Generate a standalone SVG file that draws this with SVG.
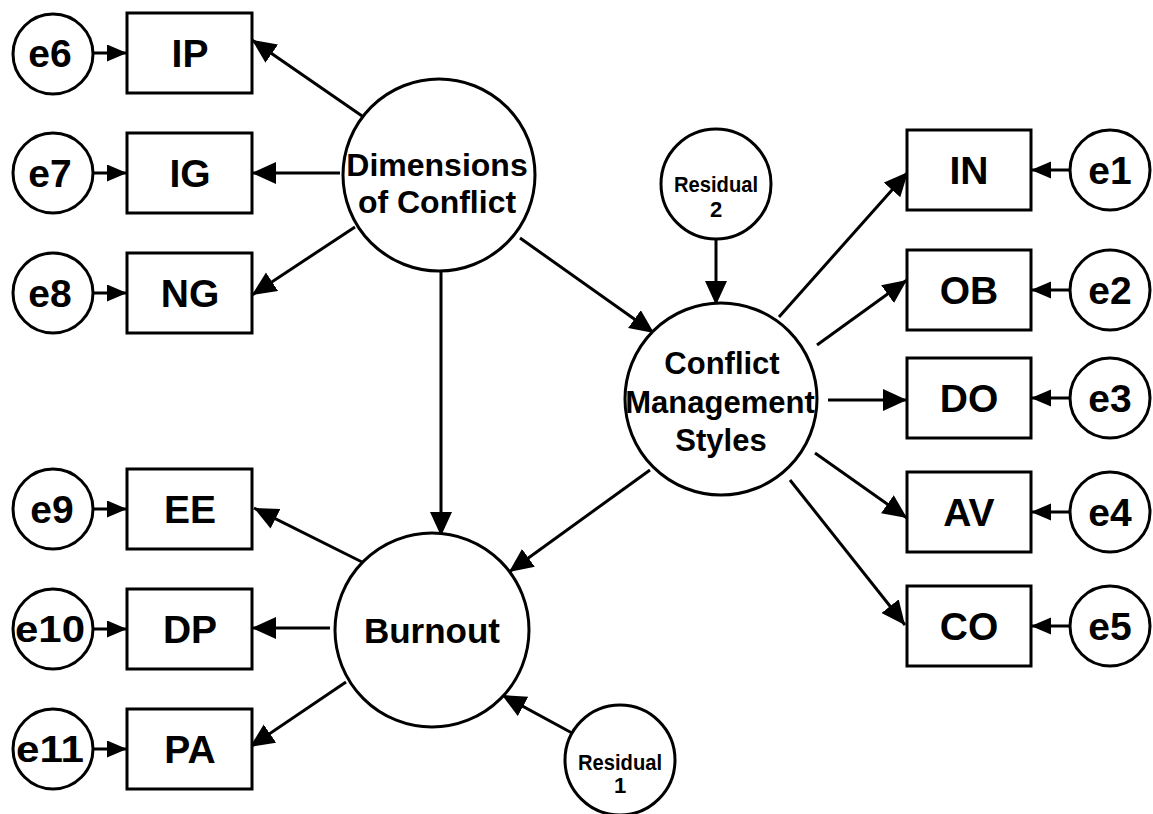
<svg xmlns="http://www.w3.org/2000/svg" width="1153" height="814" viewBox="0 0 1153 814">
  <defs>
    <marker id="head" markerUnits="userSpaceOnUse" markerWidth="26" markerHeight="24" refX="24" refY="11" orient="auto">
      <path d="M0,0 L24,11 L0,22 Z" fill="#000"/>
    </marker>
    <marker id="headSmall" markerUnits="userSpaceOnUse" markerWidth="22" markerHeight="18" refX="20" refY="8.5" orient="auto">
      <path d="M0,0 L20,8.5 L0,17 Z" fill="#000"/>
    </marker>
  </defs>
  <style>
    .shape { fill: #fff; stroke: #000; stroke-width: 3; }
    .edge { stroke: #000; stroke-width: 3; fill: none; marker-end: url(#head); }
    .err { stroke: #000; stroke-width: 3; fill: none; marker-end: url(#headSmall); }
    text { font-family: "Liberation Sans", Arial, sans-serif; font-weight: bold; text-anchor: middle; fill: #000; }
    .lat { font-size: 31px; }
    .obs { font-size: 39px; }
    .e { font-size: 39px; }
    .res { font-size: 22px; }
  </style>
  <rect width="1153" height="814" fill="#fff"/>

  <g id="connectors">
    <!-- structural paths -->
    <line class="edge" x1="365" y1="118" x2="252" y2="40"/>
    <line class="edge" x1="340" y1="173" x2="252" y2="173"/>
    <line class="edge" x1="355" y1="227" x2="252" y2="295"/>
    <line class="edge" x1="441" y1="268" x2="441" y2="536"/>
    <line class="edge" x1="520" y1="238" x2="654" y2="333"/>
    <line class="edge" x1="716" y1="240" x2="716" y2="305"/>
    <line class="edge" x1="779" y1="317" x2="908" y2="172"/>
    <line class="edge" x1="817" y1="345" x2="907" y2="280"/>
    <line class="edge" x1="828" y1="400" x2="907" y2="400"/>
    <line class="edge" x1="815" y1="453" x2="907" y2="518"/>
    <line class="edge" x1="790" y1="480" x2="905" y2="625"/>
    <line class="edge" x1="650" y1="470" x2="509" y2="572"/>
    <line class="edge" x1="362" y1="562" x2="254" y2="508"/>
    <line class="edge" x1="330" y1="628" x2="252" y2="628"/>
    <line class="edge" x1="346" y1="682" x2="250" y2="747"/>
    <line class="edge" x1="572" y1="733" x2="502" y2="695"/>
    <!-- error terms -->
    <line class="err" x1="94" y1="53" x2="127" y2="53"/>
    <line class="err" x1="94" y1="173" x2="127" y2="173"/>
    <line class="err" x1="94" y1="293" x2="127" y2="293"/>
    <line class="err" x1="94" y1="509" x2="127" y2="509"/>
    <line class="err" x1="94" y1="629" x2="127" y2="629"/>
    <line class="err" x1="94" y1="749" x2="127" y2="749"/>
    <line class="err" x1="1069" y1="170" x2="1031" y2="170"/>
    <line class="err" x1="1069" y1="290" x2="1031" y2="290"/>
    <line class="err" x1="1069" y1="398" x2="1031" y2="398"/>
    <line class="err" x1="1069" y1="512" x2="1031" y2="512"/>
    <line class="err" x1="1069" y1="626" x2="1031" y2="626"/>
  </g>

  <!-- latent variables -->
  <g id="dimensions">
    <circle class="shape" cx="439" cy="175" r="96"/>
    <text class="lat" x="437" y="176" style="font-size:32px">Dimensions</text>
    <text class="lat" x="437" y="213" style="font-size:32px">of Conflict</text>
  </g>
  <g id="cms">
    <circle class="shape" cx="721" cy="399" r="96"/>
    <text class="lat" x="722" y="374">Conflict</text>
    <text class="lat" x="720" y="413">Management</text>
    <text class="lat" x="721" y="451">Styles</text>
  </g>
  <g id="burnout">
    <circle class="shape" cx="432" cy="630" r="97"/>
    <text class="lat" x="432" y="643" style="font-size:35px">Burnout</text>
  </g>
  <g id="residual2">
    <circle class="shape" cx="716" cy="184" r="55"/>
    <text class="res" x="716" y="192" textLength="84" lengthAdjust="spacingAndGlyphs">Residual</text>
    <text class="res" x="716" y="217">2</text>
  </g>
  <g id="residual1">
    <circle class="shape" cx="620" cy="760" r="55"/>
    <text class="res" x="620" y="770" textLength="84" lengthAdjust="spacingAndGlyphs">Residual</text>
    <text class="res" x="620" y="793">1</text>
  </g>

  <!-- observed indicators, left -->
  <g id="IP"><rect class="shape" x="127" y="13" width="125" height="80"/><text class="obs" x="190" y="67">IP</text></g>
  <g id="IG"><rect class="shape" x="127" y="133" width="125" height="80"/><text class="obs" x="190" y="187">IG</text></g>
  <g id="NG"><rect class="shape" x="127" y="253" width="125" height="80"/><text class="obs" x="190" y="307">NG</text></g>
  <g id="EE"><rect class="shape" x="127" y="469" width="125" height="80"/><text class="obs" x="190" y="523">EE</text></g>
  <g id="DP"><rect class="shape" x="127" y="589" width="125" height="80"/><text class="obs" x="190" y="643">DP</text></g>
  <g id="PA"><rect class="shape" x="127" y="709" width="125" height="80"/><text class="obs" x="190" y="763">PA</text></g>

  <!-- observed indicators, right -->
  <g id="IN"><rect class="shape" x="907" y="130" width="124" height="80"/><text class="obs" x="969" y="184">IN</text></g>
  <g id="OB"><rect class="shape" x="907" y="250" width="124" height="80"/><text class="obs" x="969" y="304">OB</text></g>
  <g id="DO"><rect class="shape" x="907" y="358" width="124" height="80"/><text class="obs" x="969" y="412">DO</text></g>
  <g id="AV"><rect class="shape" x="907" y="472" width="124" height="80"/><text class="obs" x="969" y="526">AV</text></g>
  <g id="CO"><rect class="shape" x="907" y="586" width="124" height="80"/><text class="obs" x="969" y="640">CO</text></g>

  <!-- error terms, left -->
  <g id="e6"><circle class="shape" cx="53" cy="54" r="40"/><text class="e" x="50" y="67">e6</text></g>
  <g id="e7"><circle class="shape" cx="53" cy="173" r="40"/><text class="e" x="50" y="187">e7</text></g>
  <g id="e8"><circle class="shape" cx="53" cy="293" r="40"/><text class="e" x="50" y="307">e8</text></g>
  <g id="e9"><circle class="shape" cx="53" cy="509" r="40"/><text class="e" x="52" y="523">e9</text></g>
  <g id="e10"><circle class="shape" cx="53" cy="629" r="40"/><text class="e" x="50" y="642" style="font-size:37px" textLength="70" lengthAdjust="spacingAndGlyphs">e10</text></g>
  <g id="e11"><circle class="shape" cx="53" cy="749" r="40"/><text class="e" x="50" y="762" style="font-size:37px" textLength="68" lengthAdjust="spacingAndGlyphs">e11</text></g>

  <!-- error terms, right -->
  <g id="e1"><circle class="shape" cx="1110" cy="170" r="40"/><text class="e" x="1110" y="184">e1</text></g>
  <g id="e2"><circle class="shape" cx="1110" cy="290" r="40"/><text class="e" x="1110" y="304">e2</text></g>
  <g id="e3"><circle class="shape" cx="1110" cy="398" r="40"/><text class="e" x="1110" y="412">e3</text></g>
  <g id="e4"><circle class="shape" cx="1110" cy="512" r="40"/><text class="e" x="1110" y="526">e4</text></g>
  <g id="e5"><circle class="shape" cx="1110" cy="626" r="40"/><text class="e" x="1110" y="640">e5</text></g>
</svg>
